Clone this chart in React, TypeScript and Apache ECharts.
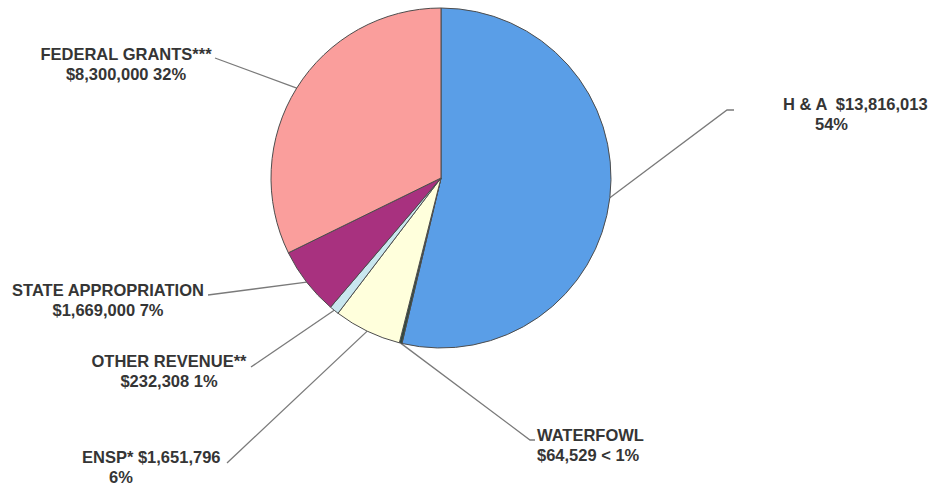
import React, { useEffect, useRef } from "react";
import * as echarts from "echarts";

// ---- data ----
const categories = ["H & A", "WATERFOWL", "ENSP*", "OTHER REVENUE**", "STATE APPROPRIATION", "FEDERAL GRANTS***"];
const amounts = [13816013, 64529, 1651796, 232308, 1669000, 8300000];
const percentLabels = ["54%", "< 1%", "6%", "1%", "7%", "32%"];
const sliceColors = ["#5A9EE7", "#2F4A40", "#FFFFDC", "#C9E7EF", "#A8317F", "#FA9E9C"];

// ---- label layout (positions only) ----
type LabelPos = {
  x: number; y: number; align: "left" | "center"; pad2: number; sep: string;
  breakAfter: "name" | "amount"; line: number[][];
};
const labelPositions: LabelPos[] = [
  { x: 783, y: 94, align: "left", pad2: 32, sep: "  ", breakAfter: "amount", line: [[727, 110], [734, 110]] },
  { x: 537, y: 425, align: "left", pad2: 0, sep: " ", breakAfter: "name", line: [[530, 440], [535, 440]] },
  { x: 82, y: 447, align: "left", pad2: 27, sep: " ", breakAfter: "amount", line: [[227, 463]] },
  { x: 169, y: 351, align: "center", pad2: 0, sep: " ", breakAfter: "name", line: [[251, 367]] },
  { x: 108, y: 280, align: "center", pad2: 0, sep: " ", breakAfter: "name", line: [[208, 295]] },
  { x: 126, y: 44, align: "center", pad2: 0, sep: " ", breakAfter: "name", line: [[215, 58]] },
];

const fmt = (v: number) => "$" + v.toLocaleString("en-US");
const FONT = "Liberation Sans, Arial, sans-serif";

export default function App() {
  const ref = useRef<HTMLDivElement>(null);
  useEffect(() => {
    document.body.style.margin = "0";
    const chart = echarts.init(ref.current!, null, { renderer: "svg" });
    const data = categories.map((name, i) => {
      const lp = labelPositions[i];
      const head = lp.breakAfter === "name" ? name : name + lp.sep + fmt(amounts[i]);
      const tail = lp.breakAfter === "name" ? fmt(amounts[i]) + " " + percentLabels[i] : percentLabels[i];
      return {
        name,
        value: amounts[i],
        itemStyle: { color: sliceColors[i] },
        label: { formatter: "{a|" + head + "}\n{b" + i + "|" + tail + "}" },
      };
    });
    const base = { fontSize: 16.5, fontWeight: "bold", color: "#353535", lineHeight: 20, fontFamily: FONT };
    const rich: any = { a: { ...base } };
    labelPositions.forEach((lp, i) => {
      rich["b" + i] = { ...base, padding: [0, 0, 0, lp.pad2] };
    });
    chart.setOption({
      animation: false,
      backgroundColor: "#ffffff",
      series: [
        {
          type: "pie",
          center: [441, 178],
          radius: 170,
          startAngle: 90,
          clockwise: true,
          silent: true,
          avoidLabelOverlap: false,
          emphasis: { disabled: true },
          itemStyle: { borderColor: "#4d4d4d", borderWidth: 1 },
          label: { show: true, position: "outside", rich, fontFamily: FONT },
          labelLine: { show: true, lineStyle: { color: "#7a7a7a", width: 1.3 } },
          labelLayout: (params: any) => {
            const lp = labelPositions[params.dataIndex];
            const anchor = params.labelLinePoints ? params.labelLinePoints[0] : lp.line[0];
            return {
              x: lp.x,
              y: lp.y,
              align: lp.align,
              verticalAlign: "top",
              labelLinePoints: [anchor, ...lp.line],
            };
          },
          data,
        },
      ],
    });
    return () => chart.dispose();
  }, []);
  return <div ref={ref} style={{ position: "fixed", left: 0, top: 0, width: 932, height: 487 }} />;
}
